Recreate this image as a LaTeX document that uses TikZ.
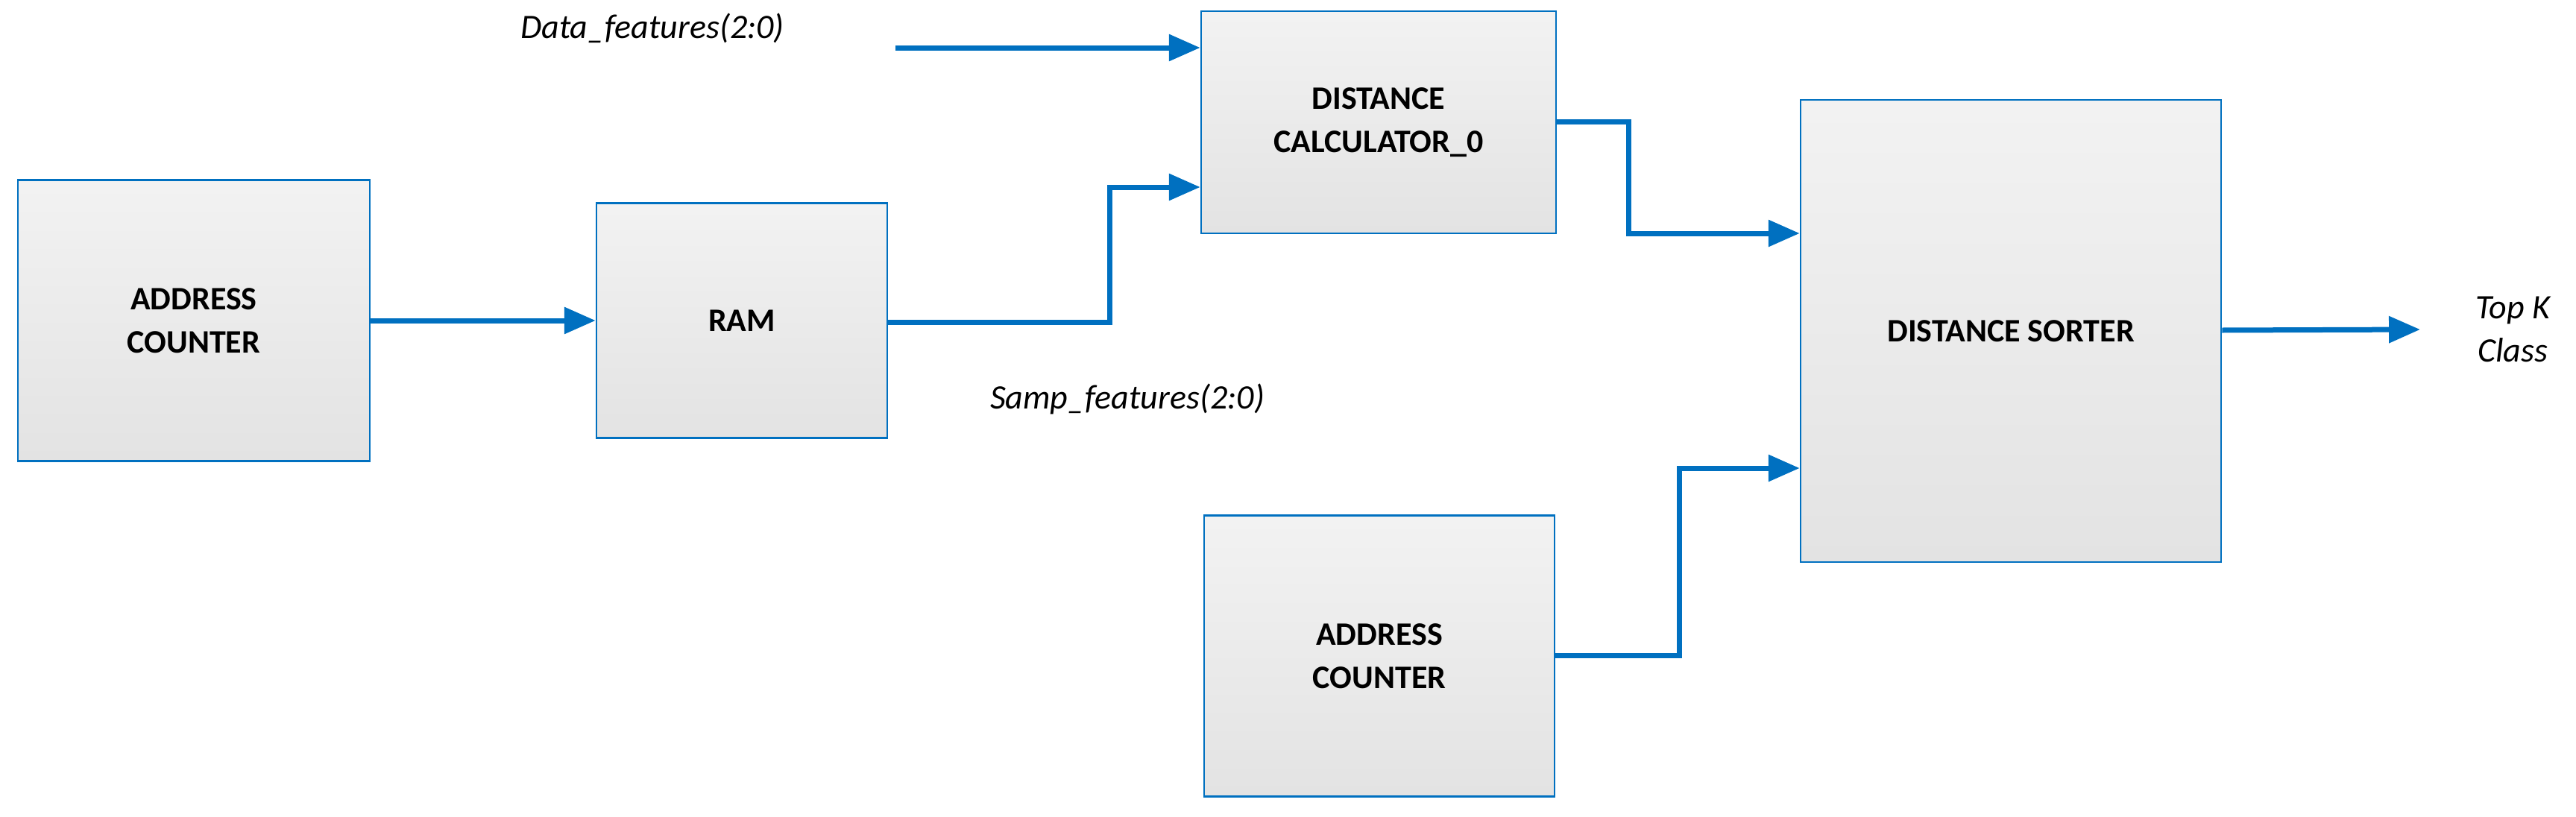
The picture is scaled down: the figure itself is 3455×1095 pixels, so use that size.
\documentclass[tikz,border=0pt]{standalone}
\usepackage{fontspec}
\setmainfont{Carlito}
\usetikzlibrary{arrows.meta}
\definecolor{bl}{HTML}{0070C0}
\begin{document}
\begin{tikzpicture}[x=1pt,y=-1pt,
 blk/.style={draw=bl,line width=2.5pt,top color=black!5,bottom color=black!11,font=\fontsize{44}{58}\selectfont\bfseries,align=center},
 wire/.style={draw=bl,line width=7pt,-{Triangle[length=42pt,width=42pt,angle'=45]}}]
\useasboundingbox (0,0) rectangle (3455,1095);
\node[blk,minimum width=472pt,minimum height=377pt] (ac1) at (260,430) {ADDRESS\\COUNTER};
\node[blk,minimum width=390pt,minimum height=315pt] (ram) at (995,430) {RAM};
\node[blk,minimum width=476pt,minimum height=298pt] (dc) at (1849,164) {DISTANCE\\CALCULATOR\_0};
\node[blk,minimum width=564pt,minimum height=620pt] (ds) at (2697,444) {DISTANCE SORTER};
\node[blk,minimum width=470pt,minimum height=377pt] (ac2) at (1850,880) {ADDRESS\\COUNTER};
\node[font=\fontsize{46}{56}\selectfont\itshape] (df) at (875,38) {Data\_features(2:0)};
\node[font=\fontsize{46}{56}\selectfont\itshape] (sf) at (1512,535) {Samp\_features(2:0)};
\node[font=\fontsize{46}{58}\selectfont\itshape,align=center] (tk) at (3370,442) {Top K\\Class};
\coordinate (dfs) at (1201,64);
\draw[wire] (ac1.east |- 0,430) -- (ram.west |- 0,430);
\draw[wire] (dfs) -- (dc.west |- dfs);
\draw[wire] (ram.east |- 0,432) -| (1488,251) -- (dc.west |- 0,251);
\draw[wire] (dc.east |- 0,163) -| (2184,313) -- (ds.west |- 0,313);
\draw[wire] (ac2.east |- 0,879) -| (2252,628) -- (ds.west |- 0,628);
\draw[wire] (ds.east |- 0,443) -- (3246,442);
\end{tikzpicture}
\end{document}
